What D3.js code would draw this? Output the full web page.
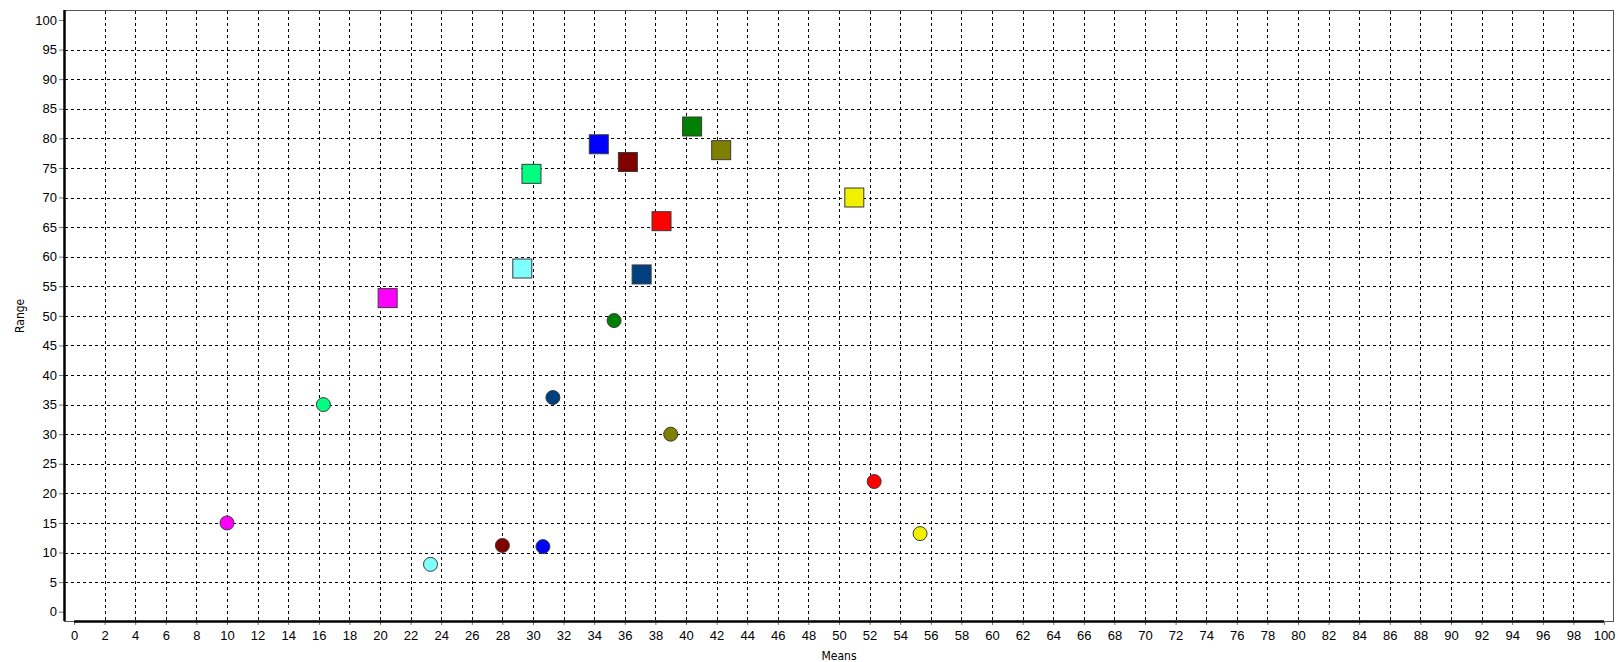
<!DOCTYPE html>
<html>
<head>
<meta charset="utf-8">
<script src="https://cdn.jsdelivr.net/npm/d3@7"></script>
<style>
    body { margin: 0; background: #fff; }
    svg { display: block; }
</style>
</head>
<body>
<div id="chart"></div>
<script>
// Chart data
var markerColors = ["#FF00FF", "#80FFFF", "#00FF80", "#0000FF", "#800000", "#FF0000", "#004080", "#008000", "#808000", "#F0F000"];
var squareMeans  = [20.5, 29.3, 29.9, 34.3, 36.2, 38.4, 37.1, 40.4, 42.3, 51.0];
var squareRanges = [53, 58, 74, 79, 76, 66, 57, 82, 78, 70];
var circleMeans  = [10.0, 23.3, 16.3, 30.65, 28.0, 52.3, 31.3, 35.3, 39.0, 55.3];
var circleRanges = [15, 8, 35, 11, 11.2, 22, 36.2, 49.2, 30, 13.2];
var xTicks = d3.range(0, 101, 2);
var yTicks = d3.range(0, 101, 5);
var xTitle = "Means";
var yTitle = "Range";

// Setting chart parameters
var properties = {
    width: 1618,
    height: 662,
    frame: { left: 64, top: 10, right: 1613, bottom: 621 }
};

var frame = properties.frame;

// Scales
var x = d3.scaleLinear().domain([0, 100]).range([74, 1604]);
var y = d3.scaleLinear().domain([0, 100]).range([611.7, 20]);

var svg = d3.select("#chart")
    .append("svg")
    .attr("width", properties.width)
    .attr("height", properties.height)
    .style("font-family", "'DejaVu Sans Condensed', 'DejaVu Sans', sans-serif");

// Plot frame (thin)
svg.append("rect")
    .attr("x", frame.left + 0.5)
    .attr("y", frame.top + 0.5)
    .attr("width", frame.right - frame.left)
    .attr("height", frame.bottom - frame.top)
    .attr("fill", "none")
    .attr("stroke", "#555")
    .attr("stroke-width", 1);

// Dashed grid
var grid = svg.append("g").attr("class", "grid")
    .attr("stroke", "#000")
    .attr("stroke-width", 1)
    .attr("stroke-dasharray", "3,3");

grid.selectAll("line.v")
    .data(xTicks.filter(function (d) { return d > 0 && d < 100; }))
    .enter().append("line")
    .attr("class", "v")
    .attr("x1", function (d) { return Math.round(x(d)) + 0.5; })
    .attr("x2", function (d) { return Math.round(x(d)) + 0.5; })
    .attr("y1", frame.top + 1)
    .attr("y2", frame.bottom);

grid.selectAll("line.h")
    .data(yTicks.filter(function (d) { return d > 0 && d < 100; }))
    .enter().append("line")
    .attr("class", "h")
    .attr("x1", frame.left + 1)
    .attr("x2", frame.right)
    .attr("y1", function (d) { return Math.round(y(d)) + 0.5; })
    .attr("y2", function (d) { return Math.round(y(d)) + 0.5; });

// Y axis
var yAxis = d3.axisLeft(y)
    .tickValues(yTicks)
    .tickSize(5)
    .tickPadding(2)
    .tickFormat(d3.format("d"));

var yAxisG = svg.append("g")
    .attr("transform", "translate(" + frame.left + ",0)")
    .call(yAxis);
yAxisG.select(".domain").remove();
yAxisG.selectAll(".tick line").attr("stroke", "#777");
yAxisG.selectAll(".tick text").attr("font-size", 13).attr("fill", "#000");

// X axis
var xAxis = d3.axisBottom(x)
    .tickValues(xTicks)
    .tickSize(4)
    .tickPadding(6)
    .tickFormat(d3.format("d"));

var xAxisG = svg.append("g")
    .attr("transform", "translate(0," + frame.bottom + ")")
    .call(xAxis);
xAxisG.select(".domain").remove();
xAxisG.selectAll(".tick line").attr("stroke", "#777");
xAxisG.selectAll(".tick text").attr("font-size", 13).attr("fill", "#000");

// Thick axis lines
svg.append("line")
    .attr("x1", frame.left + 0.5).attr("x2", frame.left + 0.5)
    .attr("y1", frame.top).attr("y2", frame.bottom)
    .attr("stroke", "#000").attr("stroke-width", 2.5);

svg.append("line")
    .attr("x1", x(0)).attr("x2", x(100))
    .attr("y1", frame.bottom + 0.5).attr("y2", frame.bottom + 0.5)
    .attr("stroke", "#000").attr("stroke-width", 2.5);

// Axis titles
svg.append("text")
    .attr("x", (x(0) + x(100)) / 2)
    .attr("y", 660)
    .attr("text-anchor", "middle")
    .attr("font-size", 12)
    .attr("fill", "#000")
    .text(xTitle);

svg.append("text")
    .attr("transform", "translate(24," + ((y(0) + y(100)) / 2) + ") rotate(-90)")
    .attr("text-anchor", "middle")
    .attr("font-size", 12)
    .attr("fill", "#000")
    .text(yTitle);

// Markers
var squareSide = 19;

svg.append("g").selectAll("rect")
    .data(squareMeans)
    .enter().append("rect")
    .attr("x", function (d) { return x(d) - squareSide / 2; })
    .attr("y", function (d, i) { return y(squareRanges[i]) - squareSide / 2; })
    .attr("width", squareSide)
    .attr("height", squareSide)
    .attr("fill", function (d, i) { return markerColors[i]; })
    .attr("stroke", "#3a3a3a")
    .attr("stroke-width", 1);

svg.append("g").selectAll("circle")
    .data(circleMeans)
    .enter().append("circle")
    .attr("cx", function (d) { return x(d); })
    .attr("cy", function (d, i) { return y(circleRanges[i]); })
    .attr("r", 7)
    .attr("fill", function (d, i) { return markerColors[i]; })
    .attr("stroke", "#3a3a3a")
    .attr("stroke-width", 1);
</script>
</body>
</html>
